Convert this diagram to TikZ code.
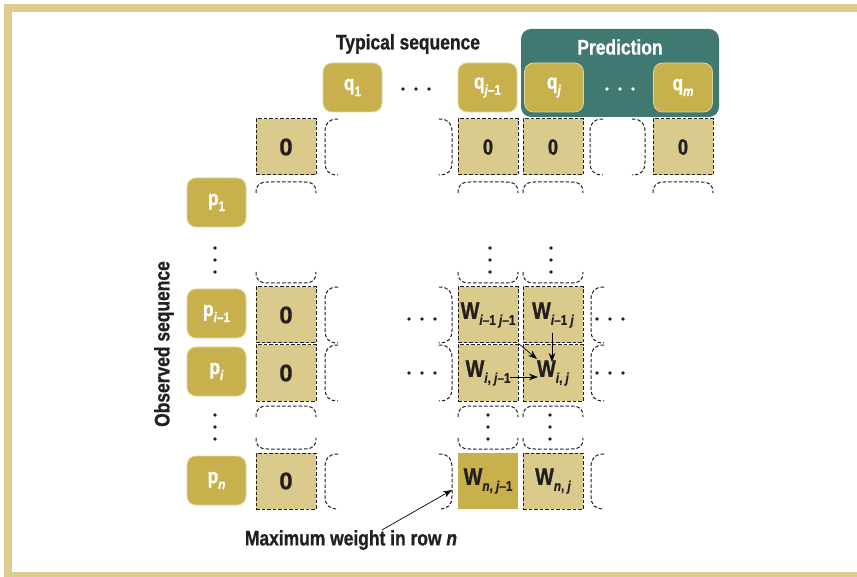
\documentclass[tikz,border=0pt]{standalone}
\usepackage{fontspec}
\setmainfont{Liberation Sans}[FakeStretch=0.83,FakeBold=0.8]
\newfontfamily\widef{Liberation Sans}[FakeBold=0.8]
\usetikzlibrary{arrows.meta}
\definecolor{framec}{RGB}{219,203,140}
\definecolor{cellc}{RGB}{218,202,139}
\definecolor{goldc}{RGB}{200,177,76}
\definecolor{tealc}{RGB}{64,121,113}
\definecolor{inkc}{RGB}{35,31,32}
\definecolor{dashc}{RGB}{30,30,30}
\newcommand\sbx[1]{\raisebox{-6pt}{\fontsize{14}{14}\selectfont #1}}
\newcommand\brL[3]{\draw[brk] (#1+13,#2) .. controls (#1+4,#2) and (#1,#2+4) .. (#1,#2+13) -- (#1,#3-13) .. controls (#1,#3-4) and (#1+4,#3) .. (#1+13,#3);}
\newcommand\brR[3]{\draw[brk] (#1-13,#2) .. controls (#1-4,#2) and (#1,#2+4) .. (#1,#2+13) -- (#1,#3-13) .. controls (#1,#3-4) and (#1-4,#3) .. (#1-13,#3);}
\newcommand\brT[3]{\draw[brk] (#1,#3+11) .. controls (#1,#3+3) and (#1+3,#3) .. (#1+12,#3) -- (#2-12,#3) .. controls (#2-3,#3) and (#2,#3+3) .. (#2,#3+11);}
\newcommand\brB[3]{\draw[brk] (#1,#3-11) .. controls (#1,#3-3) and (#1+3,#3) .. (#1+12,#3) -- (#2-12,#3) .. controls (#2-3,#3) and (#2,#3-3) .. (#2,#3-11);}
\newcommand\hdd[3][inkc]{\fill[#1] (#2-13,#3) circle[radius=1.8] (#2,#3) circle[radius=1.8] (#2+13,#3) circle[radius=1.8];}
\newcommand\vdd[2]{\fill[inkc] (#1,#2-12) circle[radius=1.8] (#1,#2) circle[radius=1.8] (#1,#2+12) circle[radius=1.8];}
\begin{document}
\begin{tikzpicture}[x=1pt,y=-1pt,
  cell/.style={draw=dashc, dash pattern=on 3.5pt off 2pt, line width=1pt, fill=cellc,
    minimum width=60pt, minimum height=56pt, inner sep=0pt, text=inkc,
    font=\fontsize{22}{22}\selectfont\bfseries},
  zcell/.style={cell, font=\widef\fontsize{24}{24}\selectfont\bfseries},
  wcell/.style={cell, font=\fontsize{24}{24}\selectfont\bfseries},
  darkcell/.style={wcell, draw=none, fill=goldc},
  seq/.style={fill=goldc, draw=goldc!55!white, line width=0.8pt, rounded corners=9pt,
    minimum width=59pt, minimum height=49pt, inner sep=0pt, text=white,
    font=\fontsize{21}{21}\selectfont\bfseries},
  predbox/.style={fill=tealc, rounded corners=10pt, minimum width=198pt, minimum height=88pt, inner sep=0pt},
  title/.style={text=inkc, inner sep=0pt, font=\fontsize{21}{21}\selectfont\bfseries},
  brk/.style={draw=dashc, dash pattern=on 3.5pt off 2pt, line width=1pt},
  arr/.style={draw=black, line width=0.7pt, -{Stealth[length=9pt,width=6.5pt]}}
]
\fill[white] (0,0) rectangle (857,577);
\useasboundingbox (0,0) rectangle (857,577);
% frame (top, left and bottom bars; right side lies outside the picture)
\fill[framec] (4,4) rectangle (857,12);
\fill[framec] (4,4) rectangle (12,577);
\fill[framec] (4,572) rectangle (857,577);

% titles
\node[title] (typ) at (408,44) {Typical sequence};
\node[predbox] (pred) at (620,73) {};
\node[title, text=white] (predl) at (620,47) {Prediction};
\node[title, rotate=90] (obs) at (164,344) {Observed sequence};

% q nodes
\node[seq] (q1) at (352.5,87.5) {q\sbx{1}};
\node[seq] (qjm) at (487.5,87.5) {q\sbx{\textit{j}–1}};
\node[seq] (qj) at (554,87.5) {q\sbx{\textit{j}}};
\node[seq] (qm) at (683,87.5) {q\sbx{\textit{m}}};
\hdd{416}{89}
\hdd[white]{620}{89}

% p nodes
\node[seq] (p1) at (216.5,202.5) {p\sbx{1}};
\node[seq] (pim) at (216.5,313.5) {p\sbx{\textit{i}–1}};
\node[seq] (pi) at (216.5,371.5) {p\sbx{\textit{i}}};
\node[seq] (pn) at (216.5,480.5) {p\sbx{\textit{n}}};
\vdd{215}{260}
\vdd{215}{427}

% row 0
\node[zcell] (z0) at (286,147) {0};
\node[cell] (z0a) at (488,147) {0};
\node[cell] (z0b) at (553,147) {0};
\node[cell] (z0c) at (683,147) {0};
\brL{325}{119}{175} \brR{452}{119}{175}
\brL{590}{119}{175} \brR{645}{119}{175}

% gap A
\brT{256}{316}{182} \brT{458}{518}{182} \brT{523}{583}{182} \brT{653}{713}{182}
\brB{256}{316}{283} \brB{458}{518}{283} \brB{523}{583}{283}
\vdd{490}{260} \vdd{551}{260}

% row i-1
\node[zcell] (z1) at (286,315) {0};
\node[wcell] (wA) at (488,315) {W\sbx{\textit{i}–1 \textit{j}–1}};
\node[wcell] (wB) at (553,315) {W\sbx{\textit{i}–1 \textit{j}}};
\brL{325}{287}{343} \brR{452}{287}{343} \brL{591}{287}{343}
\hdd{422}{319} \hdd{610}{319}

% row i
\node[zcell] (z2) at (286,373) {0};
\node[wcell] (wC) at (488,373) {W\sbx{\textit{i}, \textit{j}–1}};
\node[wcell] (wD) at (553,373) {W\sbx{\textit{i}, \textit{j}}};
\brL{325}{345}{401} \brR{452}{345}{401} \brL{591}{345}{401}
\hdd{422}{373} \hdd{610}{373}

% gap B
\brT{256}{316}{406} \brT{458}{518}{406} \brT{523}{583}{406}
\brB{256}{316}{449} \brB{458}{518}{449} \brB{523}{583}{449}
\vdd{488}{427} \vdd{550}{427}

% row n
\node[zcell] (z3) at (286,481) {0};
\node[darkcell] (wE) at (488,481) {W\sbx{\textit{n}, \textit{j}–1}};
\node[wcell] (wF) at (553,481) {W\sbx{\textit{n}, \textit{j}}};
\brL{325}{454}{509} \brR{452}{454}{509} \brL{591}{454}{509}

% arrows
\draw[arr] (wA.south east) -- ([xshift=-16pt,yshift=14pt]wD.center);
\draw[arr] ([xshift=-1pt,yshift=10pt]wB.south) -- ([xshift=-1pt,yshift=11pt]wD.center);
\draw[arr] ([xshift=22pt,yshift=-4pt]wC.center) -- ([xshift=-15pt,yshift=-4pt]wD.center);

% annotation
\node[title] (maxl) at (351,540) {Maximum weight in row \textit{n}};
\coordinate (tipn) at (452,490);
\draw[arr] ([xshift=31pt]maxl.north) -- (tipn);
\end{tikzpicture}
\end{document}
